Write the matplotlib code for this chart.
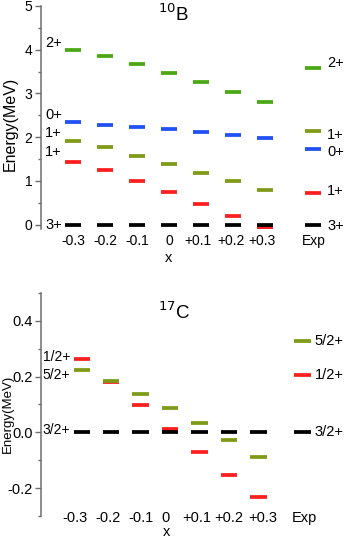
import matplotlib
matplotlib.use("Agg")
import matplotlib.pyplot as plt
from matplotlib.ticker import MultipleLocator, FormatStrFormatter

plt.rcParams['font.family'] = ['Liberation Sans', 'DejaVu Sans']
plt.rcParams['axes.unicode_minus'] = False

# ---------------- data ----------------
xlabels = ["-0.3", "-0.2", "-0.1", "0", "+0.1", "+0.2", "+0.3", "Exp"]
xpos = [0, 1, 2, 3, 4, 5, 6, 7.5]

# 10B levels (MeV)
b10_2p = [4.00, 3.85, 3.67, 3.47, 3.26, 3.04, 2.81, 3.59]
b10_0p = [2.34, 2.29, 2.24, 2.18, 2.11, 2.04, 1.99, 1.74]
b10_1p_a = [1.92, 1.77, 1.58, 1.39, 1.19, 1.00, 0.80, 2.15]
b10_1p_b = [1.44, 1.24, 1.00, 0.75, 0.48, 0.21, -0.08, 0.72]
b10_3p = [0, 0, 0, 0, 0, 0, 0, 0]

b10_left_labels = ["2+", "0+", "1+", "1+", "3+"]
b10_left_y = [4.15, 2.51, 2.09, 1.67, 0.0]
b10_right_labels = ["2+", "1+", "0+", "1+", "3+"]
b10_right_y = [3.70, 2.05, 1.66, 0.78, -0.04]

# 17C levels (MeV)
c17_12p = [0.262, 0.181, 0.098, 0.012, -0.071, -0.154, -0.231, 0.206]
c17_52p = [0.225, 0.186, 0.138, 0.089, 0.033, -0.026, -0.089, 0.327]
c17_32p = [0, 0, 0, 0, 0, 0, 0, 0]

c17_left_labels = ["1/2+", "5/2+", "3/2+"]
c17_left_y = [0.269, 0.207, 0.01]
c17_right_labels = ["5/2+", "1/2+", "3/2+"]
c17_right_y = [0.327, 0.206, 0.0]

GREEN = "#4aa812"
BLUE = "#1e50f5"
OLIVE = "#7f9a16"
RED = "#ff1e1e"
BLACK = "#000000"
GREY = "#6e6e6e"

fig = plt.figure(figsize=(3.44, 5.39), dpi=100)

def style_axis(ax, fs_y, fs_x, xpad, shifts):
    for s in ["top", "right", "bottom"]:
        ax.spines[s].set_visible(False)
    ax.spines["left"].set_color(GREY)
    ax.spines["left"].set_linewidth(1.1)
    ax.tick_params(axis="y", which="major", length=4, width=1.0, color=GREY,
                   labelsize=fs_y, pad=2)
    ax.tick_params(axis="y", which="minor", length=2.5, width=1.0, color=GREY)
    ax.tick_params(axis="x", which="both", length=0, labelsize=fs_x, pad=xpad)
    ax.set_xticks([p + s for p, s in zip(xpos, shifts)])
    ax.set_xticklabels(xlabels)
    ax.set_facecolor("none")

def draw_levels(ax, vals, color, w):
    xs = [p - w for p in xpos]
    xe = [p + w for p in xpos]
    ax.hlines(vals, xs, xe, colors=color, linewidth=2.7)

# ---------------- top panel: 10B ----------------
ax1 = fig.add_axes([0.119, 0.575, 0.881, 0.414])
w1 = 0.26
draw_levels(ax1, b10_1p_b, RED, w1)
draw_levels(ax1, b10_1p_a, OLIVE, w1)
draw_levels(ax1, b10_0p, BLUE, w1)
draw_levels(ax1, b10_2p, GREEN, w1)
draw_levels(ax1, b10_3p, BLACK, w1)
ax1.set_xlim(-1.0, 8.47)
ax1.set_ylim(-0.1, 5.0)
ax1.yaxis.set_major_locator(MultipleLocator(1))
ax1.yaxis.set_minor_locator(MultipleLocator(0.5))
style_axis(ax1, 10, 10, 3.6, [0, 0, 0, 0, -0.1, -0.06, -0.08, 0.03])
ax1.set_ylabel("Energy(MeV)", fontsize=11.5)
ax1.yaxis.set_label_coords(-0.076, 0.47)
ax1.set_xlabel("x", fontsize=10.5)
ax1.xaxis.set_label_coords(0.42, -0.1)
ax1.text(3.15, 4.82, r"$^{10}$B", ha="center", va="center", fontsize=13.5)
for lab, yv in zip(b10_left_labels, b10_left_y):
    ax1.text(xpos[0] - w1 - 0.08, yv, lab, ha="right", va="center", fontsize=10.5)
for lab, yv in zip(b10_right_labels, b10_right_y):
    ax1.text(xpos[-1] + w1 + 0.19, yv, lab, ha="left", va="center", fontsize=10.5)

# ---------------- bottom panel: 17C ----------------
ax2 = fig.add_axes([0.119, 0.0427, 0.881, 0.4137])
w2 = 0.28
draw_levels(ax2, c17_12p, RED, w2)
draw_levels(ax2, c17_52p, OLIVE, w2)
draw_levels(ax2, c17_32p, BLACK, w2)
ax2.set_xlim(-1.39, 8.91)
ax2.set_ylim(-0.3, 0.5)
ax2.yaxis.set_major_locator(MultipleLocator(0.2))
ax2.yaxis.set_minor_locator(MultipleLocator(0.1))
ax2.yaxis.set_major_formatter(FormatStrFormatter("%.1f"))
style_axis(ax2, 10.5, 10.5, -3.8, [-0.24, -0.1, 0, -0.14, -0.1, 0, 0.14, 0.07])
ax2.set_ylabel("Energy(MeV)", fontsize=9.5)
ax2.yaxis.set_label_coords(-0.09, 0.46)
ax2.set_xlabel("x", fontsize=10.5)
ax2.xaxis.set_label_coords(0.415, -0.042)
ax2.text(3.15, 0.43, r"$^{17}$C", ha="center", va="center", fontsize=13.5)
for lab, yv in zip(c17_left_labels, c17_left_y):
    ax2.text(xpos[0] - w2 - 0.12, yv, lab, ha="right", va="center", fontsize=10)
for lab, yv in zip(c17_right_labels, c17_right_y):
    ax2.text(xpos[-1] + w2 + 0.13, yv, lab, ha="left", va="center", fontsize=10.5)

fig.savefig("out.png", dpi=100)
